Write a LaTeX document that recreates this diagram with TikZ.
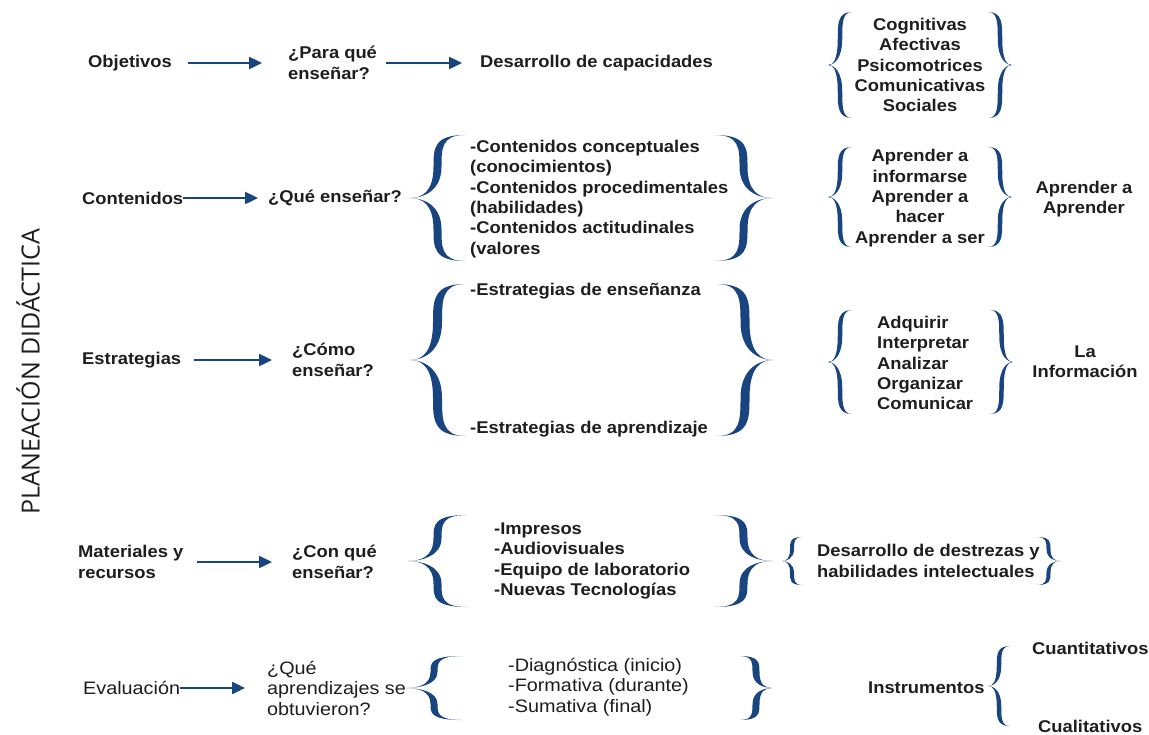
\documentclass[tikz,border=0pt]{standalone}
\usepackage{fontspec}
\setmainfont{Liberation Sans}[FakeStretch=1.08]
\newfontfamily\evfont{Liberation Sans}[FakeStretch=1.1]
\newfontfamily\sidefont{Open Sans}
\usetikzlibrary{arrows.meta}
\definecolor{ink}{RGB}{30,30,32}
\definecolor{navy}{RGB}{24,68,128}
\tikzset{
  lbl/.style={inner sep=0pt, text=ink, font=\fontsize{17}{20.4}\selectfont\bfseries},
  lblr/.style={inner sep=0pt, text=ink, font=\evfont\fontsize{18}{20.5}\selectfont},
  arr/.style={draw=navy, line width=2.4pt, -{Triangle[length=13pt,width=12pt]}},
  brcfill/.style={fill=navy}
}
% #1 tip x, #2 mid y, #3 end x, #4 half height, #5 max thickness
\newcommand\brc[5]{%
  \pgfmathsetmacro\Ba{#1}%
  \pgfmathsetmacro\Bm{#2}%
  \pgfmathsetmacro\Bb{#3}%
  \pgfmathsetmacro\Bh{#4}%
  \pgfmathsetmacro\Bd{#5/2}%
  \pgfmathsetmacro\Bc{(\Ba+\Bb)/2}%
  \pgfmathsetmacro\Bl{\Bc-\Bd}%
  \pgfmathsetmacro\Br{\Bc+\Bd}%
  \pgfmathsetmacro\Bt{\Bm-\Bh}%
  \pgfmathsetmacro\Bu{\Bm+\Bh}%
  \pgfmathsetmacro\Bv{\Bm-0.5*\Bh}%
  \pgfmathsetmacro\Bw{\Bm+0.5*\Bh}%
  \pgfmathsetmacro\Bte{\Bt+0.22*\Bh}%
  \pgfmathsetmacro\Bue{\Bu-0.22*\Bh}%
  \pgfmathsetmacro\Btf{\Bm-0.1*\Bh}%
  \pgfmathsetmacro\Buf{\Bm+0.1*\Bh}%
  \pgfmathsetmacro\Bk{\Ba+0.45*(\Bc-\Ba)}%
  \fill[brcfill] (\Bb,\Bt) .. controls (\Bl,\Bt) and (\Bl,\Bte) .. (\Bl,\Bv)
     .. controls (\Bl,\Btf) and (\Bk,\Bm) .. (\Ba,\Bm)
     .. controls (\Bk,\Bm) and (\Br,\Btf) .. (\Br,\Bv)
     .. controls (\Br,\Bte) and (\Br,\Bt) .. (\Bb,\Bt) -- cycle;
  \fill[brcfill] (\Bb,\Bu) .. controls (\Bl,\Bu) and (\Bl,\Bue) .. (\Bl,\Bw)
     .. controls (\Bl,\Buf) and (\Bk,\Bm) .. (\Ba,\Bm)
     .. controls (\Bk,\Bm) and (\Br,\Buf) .. (\Br,\Bw)
     .. controls (\Br,\Bue) and (\Br,\Bu) .. (\Bb,\Bu) -- cycle;
}
\begin{document}
\begin{tikzpicture}[x=1pt,y=-1pt]
\path[use as bounding box, fill=white] (0,0) rectangle (1149,734);

% side title
\node[inner sep=0pt, text=ink, rotate=90, font=\sidefont\fontsize{25}{28}\selectfont] (side) at (28,372) {PLANEACIÓN DIDÁCTICA};

% Row 1
\node[lbl, anchor=west] (obj) at (88,63) {Objetivos};
\node[lbl, anchor=west, align=left] (para) at (288,63) {¿Para qué\\enseñar?};
\node[lbl, anchor=west] (desa) at (480,63) {Desarrollo de capacidades};
\node[lbl, align=center] (cog) at (920,65) {Cognitivas\\Afectivas\\Psicomotrices\\Comunicativas\\Sociales};
\draw[arr, shorten <=16pt, shorten >=26pt] (obj) -- (para);
\draw[arr, shorten <=9pt, shorten >=18pt] (para) -- (desa);
\brc{828}{65}{852}{53}{4.5}
\brc{1012}{65}{988}{53}{4.5}

% Row 2
\node[lbl, anchor=west] (cont) at (82,198) {Contenidos};
\node[lbl, anchor=west] (que) at (268,198) {¿Qué enseñar?};
\node[lbl, anchor=west, align=left] (ccont) at (470,199) {-Contenidos conceptuales\\(conocimientos)\\-Contenidos procedimentales\\(habilidades)\\-Contenidos actitudinales\\(valores};
\node[lbl, align=center] (apr) at (920,198) {Aprender a\\informarse\\Aprender a\\hacer\\Aprender a ser};
\node[lbl, align=center] (aa) at (1084,199) {Aprender a\\Aprender};
\draw[arr, shorten >=10pt] (cont) -- (que);
\brc{410}{198}{465}{63}{8}
\brc{772}{198}{715}{63}{8}
\brc{828}{197}{852}{50}{4.5}
\brc{1012}{197}{988}{50}{4.5}

% Row 3
\node[lbl, anchor=west] (est) at (82,360) {Estrategias};
\node[lbl, anchor=west, align=left] (como) at (292,360) {¿Cómo\\enseñar?};
\node[lbl, anchor=west] (e1) at (470,291) {-Estrategias de enseñanza};
\node[lbl, anchor=west] (e2) at (470,429) {-Estrategias de aprendizaje};
\node[lbl, anchor=west, align=left] (adq) at (877,363) {Adquirir\\Interpretar\\Analizar\\Organizar\\Comunicar};
\node[lbl, align=center] (lainf) at (1085,362) {La\\Información};
\draw[arr, shorten <=13pt, shorten >=20pt] (est) -- (como);
\brc{410}{360}{465}{76}{9}
\brc{773}{360}{717}{76}{9}
\brc{828}{362}{852}{52}{4.5}
\brc{1013}{362}{990}{52}{4.5}

% Row 4
\node[lbl, anchor=west, align=left] (mat) at (78,562) {Materiales y\\recursos};
\node[lbl, anchor=west, align=left] (con) at (292,562) {¿Con qué\\enseñar?};
\node[lbl, anchor=west, align=left] (imp) at (494,561) {-Impresos\\-Audiovisuales\\-Equipo de laboratorio\\-Nuevas Tecnologías};
\node[lbl, anchor=west, align=left] (ddh) at (817,561) {Desarrollo de destrezas y\\habilidades intelectuales};
\draw[arr, shorten <=13pt, shorten >=20pt] (mat) -- (con);
\brc{408}{561}{467}{46}{8}
\brc{772}{561}{715}{46}{8}
\brc{782}{561}{802}{24}{4}
\brc{1060}{561}{1037}{24}{4}

% Row 5
\node[lblr, anchor=west] (eva) at (83,688) {Evaluación};
\node[lblr, anchor=west, align=left] (qap) at (267,688) {¿Qué\\aprendizajes se\\obtuvieron?};
\node[lblr, anchor=west, align=left] (diag) at (508,687) {-Diagnóstica (inicio)\\-Formativa (durante)\\-Sumativa (final)};
\node[lbl, anchor=west] (ins) at (868,688) {Instrumentos};
\node[lbl, anchor=west] (cuan) at (1032,648) {Cuantitativos};
\node[lbl, anchor=west] (cual) at (1038,726) {Cualitativos};
\draw[arr, shorten >=22pt] (eva) -- (qap);
\brc{406}{688}{462}{32}{7}
\brc{772}{688}{740}{32}{7}
\brc{988}{686}{1010}{40}{4.5}
\end{tikzpicture}
\end{document}
